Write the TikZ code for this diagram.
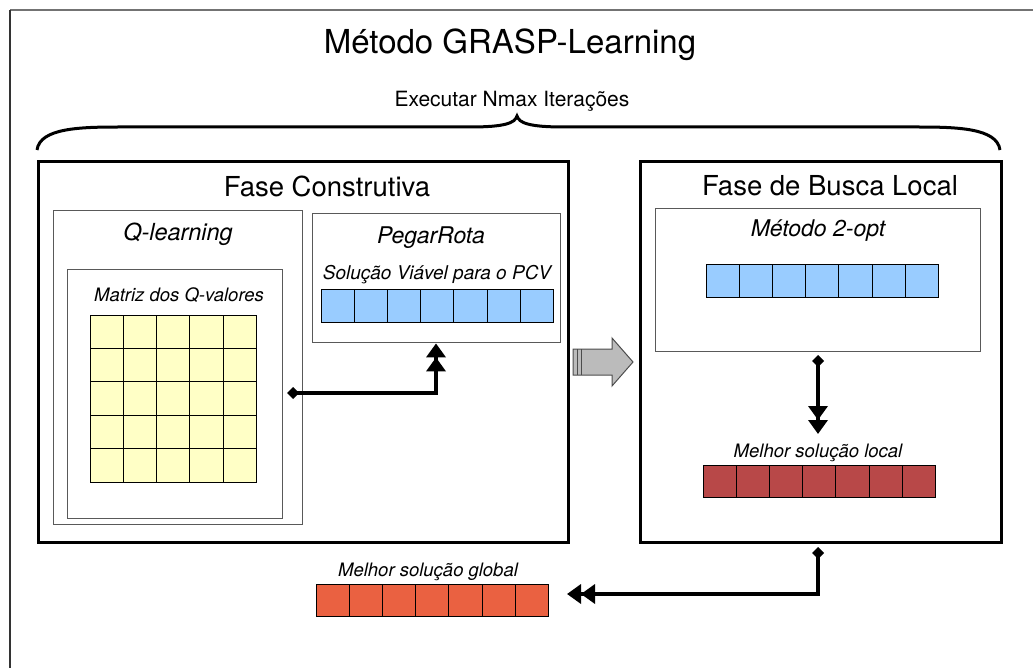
\documentclass[tikz,border=0pt]{standalone}
\usepackage{fontspec}
\setmainfont{TeX Gyre Heros}
\usetikzlibrary{arrows.meta,calc}
\definecolor{qyellow}{HTML}{FFFFC6}
\definecolor{vblue}{HTML}{99CCFF}
\definecolor{vred}{HTML}{B84848}
\definecolor{vorange}{HTML}{EA6141}
\definecolor{bgray}{HTML}{BBBBBB}
\tikzset{
  phase/.style={draw=black,line width=3pt},
  sub/.style={draw=black!65,line width=1.4pt},
  cellrow/.style={draw=black,line width=1pt},
  conn/.style={line width=4pt,{Diamond[length=12pt,width=12pt]}-{Triangle[length=14pt,width=19pt]Triangle[length=14pt,width=19pt]}},
  lbl/.style={inner sep=0pt,anchor=center},
}
\newcommand{\cellarray}[5]{% x0, y0, n, fill, name
  \foreach \i in {1,...,#3}{
    \draw[cellrow,fill=#4] ({#1+(\i-1)*33.2},#2) rectangle ++(33.2,32);
  }
}
\begin{document}
\begin{tikzpicture}[x=1pt,y=-1pt]
\useasboundingbox (0,0) rectangle (1033,668);
% outer frame
\draw[black!55,line width=1.5pt] (10,10) -- (1033,10);
\draw[black!80,line width=1.5pt] (10,10) -- (10,668);
% title
\node[lbl] (title) at (510,45) {\fontsize{33}{38}\selectfont Método GRASP-Learning};
\node[lbl] (iter) at (512,101) {\fontsize{21}{25}\selectfont Executar Nmax Iterações};
% brace
\draw[line width=3pt] (37,150) .. controls (40,128) and (80,127) .. (120,127)
  -- (470,127) .. controls (505,127) and (515,123) .. (517,116)
  .. controls (519,123) and (529,127) .. (564,127) -- (917,127)
  .. controls (957,127) and (997,128) .. (1000,150);
% left phase
\node[phase,minimum width=530pt,minimum height=381pt,anchor=north west] (fc) at (37,160) {};
\node[lbl] (fctxt) at (327,186) {\fontsize{27.5}{31}\selectfont Fase Construtiva};
\node[sub,minimum width=249pt,minimum height=314pt,anchor=north west] (ql) at (53,210) {};
\node[lbl] (qltxt) at (178,234) {\fontsize{23.5}{27}\selectfont\itshape Q-learning};
\node[sub,minimum width=215pt,minimum height=249pt,anchor=north west] (mq) at (67,269) {};
\node[lbl] (mqtxt) at (179,295) {\fontsize{18.5}{22}\selectfont\itshape Matriz dos Q-valores};
\foreach \r in {0,...,4}{
  \foreach \c in {0,...,4}{
    \draw[cellrow,fill=qyellow] ({90+\c*33.3},{315+\r*33.4}) rectangle ++(33.3,33.4);
  }
}
\coordinate (gridR) at (287,393);
\node[sub,minimum width=248pt,minimum height=129pt,anchor=north west] (pr) at (312,213) {};
\node[lbl] (prtxt) at (431,238) {\fontsize{23}{27}\selectfont\itshape PegarRota};
\node[lbl] (svtxt) at (437,275) {\fontsize{19}{22}\selectfont\itshape Solução Viável para o PCV};
\cellarray{321}{290}{7}{vblue}{sv}
\draw[conn] (gridR) -| (pr.south -| 436,0);
% block arrow
\draw[black!70,line width=1pt,fill=bgray] (573,349) -- (612,349) -- (612,338) -- (633,362) -- (612,386) -- (612,375) -- (573,375) -- cycle;
\draw[black!70,line width=1pt] (577,349) -- (577,375) (581,349) -- (581,375);
% right phase
\node[phase,minimum width=361pt,minimum height=381pt,anchor=north west] (bl) at (639,160) {};
\node[lbl] (bltxt) at (830,186) {\fontsize{27.5}{31}\selectfont Fase de Busca Local};
\node[sub,minimum width=325pt,minimum height=143pt,anchor=north west] (op) at (655,208) {};
\node[lbl] (optxt) at (818,231) {\fontsize{23}{27}\selectfont\itshape Método 2-opt};
\cellarray{706}{265}{7}{vblue}{op}
\coordinate (opS) at (818,355);
\coordinate (locN) at (818,434);
\draw[conn] (opS) -- (locN);
\node[lbl] (loctxt) at (818,453) {\fontsize{18.5}{22}\selectfont\itshape Melhor solução local};
\cellarray{703}{465}{7}{vred}{loc}
% global
\coordinate (blS) at (818,547);
\coordinate (globE) at (567,594);
\draw[conn] (blS) |- (globE);
\node[lbl] (globtxt) at (428,572) {\fontsize{18.5}{22}\selectfont\itshape Melhor solução global};
\cellarray{316}{584}{7}{vorange}{glob}
\end{tikzpicture}
\end{document}
